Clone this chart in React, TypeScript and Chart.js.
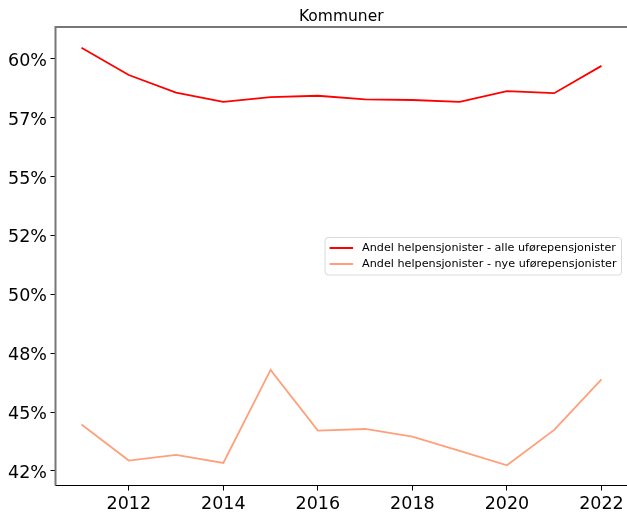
import React, { useEffect, useRef } from "react";
import { Chart, registerables } from "chart.js";

Chart.register(...registerables);

const TITLE = "Kommuner";
const years = [2011, 2012, 2013, 2014, 2015, 2016, 2017, 2018, 2019, 2020, 2021, 2022];
const alleSeries = [60.47, 59.31, 58.56, 58.17, 58.37, 58.43, 58.28, 58.25, 58.17, 58.63, 58.54, 59.7];
const nyeSeries = [44.47, 42.94, 43.18, 42.84, 46.79, 44.21, 44.28, 43.96, 43.35, 42.74, 44.24, 46.39];
const seriesLabels = [
  "Andel helpensjonister - alle uførepensjonister",
  "Andel helpensjonister - nye uførepensjonister",
];
const seriesColors = ["#ff0000", "#ffa07a"];
const xTicks = [2012, 2014, 2016, 2018, 2020, 2022];
const yTicks = [42.5, 45, 47.5, 50, 52.5, 55, 57.5, 60];
const yTickLabels = ["42%", "45%", "48%", "50%", "52%", "55%", "57%", "60%"];

const FONT = "'DejaVu Sans', sans-serif";

const decorPlugin = {
  id: "decor",
  afterDraw(chart: any) {
    const ctx = chart.ctx;
    const a = chart.chartArea;
    ctx.save();
    // spines
    ctx.strokeStyle = "#777777";
    ctx.lineWidth = 2;
    ctx.beginPath();
    ctx.moveTo(a.left, a.bottom);
    ctx.lineTo(a.left, a.top);
    ctx.lineTo(a.right + 2, a.top);
    ctx.stroke();
    ctx.strokeStyle = "#000000";
    ctx.lineWidth = 1.2;
    ctx.beginPath();
    ctx.moveTo(a.left, a.bottom);
    ctx.lineTo(a.right + 2, a.bottom);
    ctx.stroke();

    // title
    ctx.fillStyle = "#000000";
    ctx.font = `15.5px ${FONT}`;
    ctx.textAlign = "center";
    ctx.textBaseline = "alphabetic";
    ctx.fillText(TITLE, (a.left + a.right) / 2, a.top - 6.4);

    // legend
    const fs = 11.2;
    ctx.font = `${fs}px ${FONT}`;
    const ds = chart.data.datasets;
    let tw = 0;
    ds.forEach((d: any) => {
      tw = Math.max(tw, ctx.measureText(d.label).width);
    });
    const padL = 4.5, lineLen = 23.5, gap = 9, padR = 5;
    const boxW = padL + lineLen + gap + tw + padR;
    const boxH = 37.5;
    const bx = a.right - 5.5 - boxW;
    const by = (a.top + a.bottom) / 2 - boxH / 2;
    ctx.beginPath();
    const r = 3;
    ctx.moveTo(bx + r, by);
    ctx.lineTo(bx + boxW - r, by);
    ctx.quadraticCurveTo(bx + boxW, by, bx + boxW, by + r);
    ctx.lineTo(bx + boxW, by + boxH - r);
    ctx.quadraticCurveTo(bx + boxW, by + boxH, bx + boxW - r, by + boxH);
    ctx.lineTo(bx + r, by + boxH);
    ctx.quadraticCurveTo(bx, by + boxH, bx, by + boxH - r);
    ctx.lineTo(bx, by + r);
    ctx.quadraticCurveTo(bx, by, bx + r, by);
    ctx.closePath();
    ctx.fillStyle = "rgba(255,255,255,0.8)";
    ctx.fill();
    ctx.strokeStyle = "#d9d9d9";
    ctx.lineWidth = 1;
    ctx.stroke();
    ds.forEach((d: any, i: number) => {
      const ly = by + 10.5 + i * 16;
      ctx.strokeStyle = d.borderColor;
      ctx.lineWidth = 2;
      ctx.beginPath();
      ctx.moveTo(bx + padL, ly);
      ctx.lineTo(bx + padL + lineLen, ly);
      ctx.stroke();
      ctx.fillStyle = "#000000";
      ctx.textAlign = "left";
      ctx.textBaseline = "middle";
      ctx.fillText(d.label, bx + padL + lineLen + gap, ly + 0.5);
    });
    ctx.restore();
  },
};

export default function App() {
  const ref = useRef<HTMLCanvasElement | null>(null);
  useEffect(() => {
    if (!ref.current) return;
    const chart = new Chart(ref.current, {
      type: "line",
      data: {
        datasets: [
          {
            label: seriesLabels[0],
            data: years.map((x, i) => ({ x, y: alleSeries[i] })),
            borderColor: seriesColors[0],
            backgroundColor: seriesColors[0],
            borderWidth: 1.8,
            pointRadius: 0,
            tension: 0,
          },
          {
            label: seriesLabels[1],
            data: years.map((x, i) => ({ x, y: nyeSeries[i] })),
            borderColor: seriesColors[1],
            backgroundColor: seriesColors[1],
            borderWidth: 1.8,
            pointRadius: 0,
            tension: 0,
          },
        ],
      },
      options: {
        responsive: false,
        animation: false,
        devicePixelRatio: 1,
        layout: { padding: { top: 27, left: 0, right: 0, bottom: 0 } },
        plugins: {
          legend: { display: false },
          title: { display: false },
          tooltip: { enabled: false },
        },
        scales: {
          x: {
            type: "linear",
            min: 2010.45,
            max: 2022.54,
            afterBuildTicks: (s: any) => {
              s.ticks = xTicks.map((v) => ({ value: v }));
            },
            afterFit: (s: any) => {
              s.height = 28.5;
            },
            border: { display: false },
            grid: {
              display: true,
              drawOnChartArea: false,
              drawTicks: true,
              tickLength: 5,
              color: "#000000",
            },
            ticks: {
              color: "#000000",
              font: { family: FONT, size: 17.5 },
              padding: 3,
              maxRotation: 0,
              autoSkip: false,
              callback: (v: any) => String(v),
            },
          },
          y: {
            type: "linear",
            min: 41.88,
            max: 61.35,
            afterBuildTicks: (s: any) => {
              s.ticks = yTicks.map((v) => ({ value: v }));
            },
            afterFit: (s: any) => {
              s.width = 55.5;
            },
            border: { display: false },
            grid: {
              display: true,
              drawOnChartArea: false,
              drawTicks: true,
              tickLength: 5,
              color: "#000000",
            },
            ticks: {
              color: "#000000",
              font: { family: FONT, size: 17.5 },
              padding: 3.5,
              labelOffset: 2.5,
              autoSkip: false,
              callback: (v: any) => {
                const i = yTicks.indexOf(Number(v));
                return i >= 0 ? yTickLabels[i] : "";
              },
            },
          },
        },
      },
      plugins: [decorPlugin],
    } as any);
    return () => chart.destroy();
  }, []);
  return (
    <div style={{ position: "fixed", left: 0, top: 0, width: 627, height: 514, overflow: "hidden", background: "#fff" }}>
      <canvas ref={ref} width={627} height={514} style={{ display: "block", width: 627, height: 514 }} />
    </div>
  );
}
